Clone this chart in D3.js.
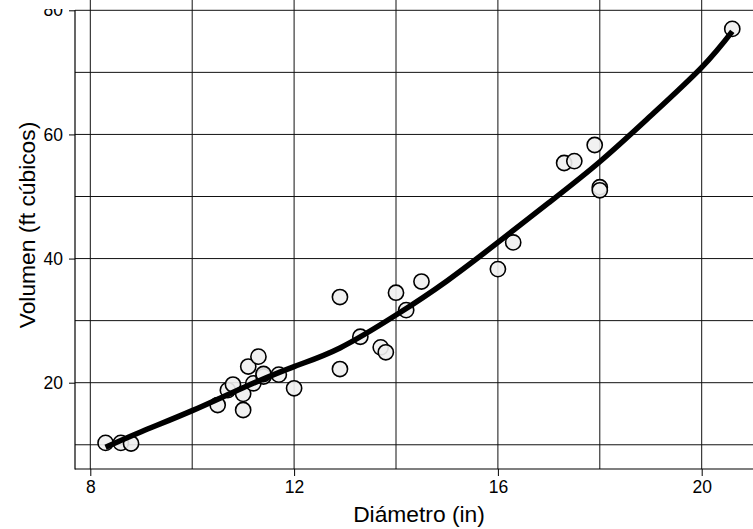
<!DOCTYPE html>
<html>
<head>
<meta charset="utf-8">
<script src="https://cdn.jsdelivr.net/npm/d3@7"></script>
<style>
  html, body { margin: 0; padding: 0; background: #fff; }
  svg { display: block; }
  text { font-family: "Liberation Sans", Arial, Helvetica, sans-serif; fill: #000; }
</style>
</head>
<body>
<svg id="chart" width="753" height="529"></svg>
<script>
// Black cherry trees: trunk diameter (in) and timber volume (cubic ft)
const diameter = [8.3, 8.6, 8.8, 10.5, 10.7, 10.8, 11.0, 11.0, 11.1, 11.2, 11.3, 11.4, 11.4, 11.7, 12.0, 12.9, 12.9, 13.3, 13.7, 13.8, 14.0, 14.2, 14.5, 16.0, 16.3, 17.3, 17.5, 17.9, 18.0, 18.0, 20.6];
const volume   = [10.3, 10.3, 10.2, 16.4, 18.8, 19.7, 15.6, 18.2, 22.6, 19.9, 24.2, 21.0, 21.4, 21.3, 19.1, 22.2, 33.8, 27.4, 25.7, 24.9, 34.5, 31.7, 36.3, 38.3, 42.6, 55.4, 55.7, 58.3, 51.5, 51.0, 77.0];

// Smoothed trend of volume against diameter
const fitDiameter = [8.3, 9, 10, 11, 12, 12.9, 14, 15, 16, 17, 18, 19, 20, 20.6];
const fitVolume   = [9.6, 12.1, 15.5, 19.2, 22.6, 25.6, 30.9, 36.4, 42.6, 49.0, 55.6, 63.0, 70.8, 76.6];

// Axis ticks and grid
const xTickLabels = [8, 12, 16, 20];
const xGrid = [8, 10, 12, 14, 16, 18, 20];
const yTickLabels = [20, 40, 60, 80];
const yGrid = [10, 20, 30, 40, 50, 60, 70, 80];

const W = 753, H = 529;
const axisX = 75, axisY = 469;

const x = d3.scaleLinear().domain([8, 20]).range([90.3, 701.7]);
const y = d3.scaleLinear().domain([20, 80]).range([382.7, 10.3]);

const svg = d3.select("#chart");

// upper edge of the figure region; text above it is cut off
svg.append("defs").append("clipPath").attr("id", "figClip")
  .append("rect").attr("x", 0).attr("y", 9).attr("width", W).attr("height", H - 9);

// grid
const grid = svg.append("g").attr("stroke", "#111").attr("stroke-width", 1);
grid.selectAll("line.v").data(xGrid).join("line")
  .attr("class", "v")
  .attr("x1", d => x(d)).attr("x2", d => x(d))
  .attr("y1", 0).attr("y2", axisY);
grid.selectAll("line.h").data(yGrid).join("line")
  .attr("class", "h")
  .attr("x1", axisX).attr("x2", W)
  .attr("y1", d => y(d)).attr("y2", d => y(d));

// axes
const xAxis = d3.axisBottom(x).tickValues(xTickLabels).tickSize(7).tickPadding(5).tickFormat(d3.format("d"));
const yAxis = d3.axisLeft(y).tickValues(yTickLabels).tickSize(6).tickPadding(6).tickFormat(d3.format("d"));

const gx = svg.append("g").attr("transform", `translate(0,${axisY})`).call(xAxis);
gx.select(".domain").remove();
gx.selectAll("line").attr("stroke", "#000");
gx.selectAll("text").attr("font-size", 17.5).attr("font-family", "Liberation Sans, Arial, sans-serif");

const gyWrap = svg.append("g").attr("clip-path", "url(#figClip)");
const gy = gyWrap.append("g").attr("transform", `translate(${axisX},0)`).call(yAxis);
gy.select(".domain").remove();
gy.selectAll("line").attr("stroke", "#000");
gy.selectAll("text").attr("font-size", 17.5).attr("font-family", "Liberation Sans, Arial, sans-serif");

// L-shaped frame
svg.append("line").attr("x1", axisX).attr("x2", axisX).attr("y1", y(80)).attr("y2", axisY + 0.5)
  .attr("stroke", "#000").attr("stroke-width", 1.2);
svg.append("line").attr("x1", axisX).attr("x2", W).attr("y1", axisY).attr("y2", axisY)
  .attr("stroke", "#000").attr("stroke-width", 1.2);

// observations
const pts = diameter.map((d, i) => [d, volume[i]]);
svg.append("g").selectAll("circle").data(pts).join("circle")
  .attr("cx", d => x(d[0]))
  .attr("cy", d => y(d[1]))
  .attr("r", 7.6)
  .attr("fill", "#efefef")
  .attr("fill-opacity", 0.9)
  .attr("stroke", "#000")
  .attr("stroke-width", 1.6);

// trend line, drawn over the points
const fit = fitDiameter.map((d, i) => [d, fitVolume[i]]);
svg.append("path")
  .datum(fit)
  .attr("fill", "none")
  .attr("stroke", "#000")
  .attr("stroke-width", 5.5)
  .attr("d", d3.line().x(d => x(d[0])).y(d => y(d[1])).curve(d3.curveNatural));

// axis titles
svg.append("text")
  .attr("x", 419).attr("y", 522)
  .attr("text-anchor", "middle")
  .attr("font-size", 22.8)
  .text("Diámetro (in)");
svg.append("text")
  .attr("transform", "translate(35,225) rotate(-90)")
  .attr("text-anchor", "middle")
  .attr("font-size", 22.8)
  .text("Volumen (ft cúbicos)");
</script>
</body>
</html>
